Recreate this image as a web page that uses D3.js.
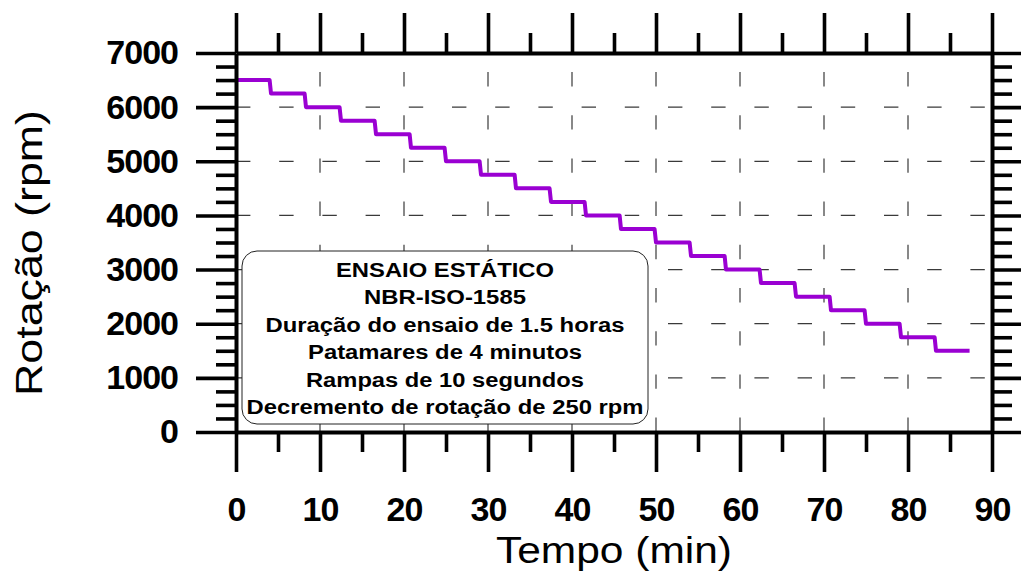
<!DOCTYPE html>
<html>
<head>
<meta charset="utf-8">
<script src="https://cdn.jsdelivr.net/npm/d3@7"></script>
<style>
  html, body { margin: 0; padding: 0; background: #fff; }
  svg { display: block; font-family: "Liberation Sans", Arial, sans-serif; }
</style>
</head>
<body>
<svg id="chart" width="1021" height="571"></svg>
<script>
// Rotation plateaus of the static test (rpm) with start/end time of each plateau (min)
const rotationLevels = [6500, 6250, 6000, 5750, 5500, 5250, 5000, 4750, 4500, 4250, 4000,
                        3750, 3500, 3250, 3000, 2750, 2500, 2250, 2000, 1750, 1500];
const plateauStart = [0, 4.17, 8.33, 12.5, 16.67, 20.83, 25, 29.17, 33.33, 37.5, 41.67,
                      45.83, 50, 54.17, 58.33, 62.5, 66.67, 70.83, 75, 79.17, 83.33];
const plateauEnd   = [4, 8.17, 12.33, 16.5, 20.67, 24.83, 29, 33.17, 37.33, 41.5, 45.67,
                      49.83, 54, 58.17, 62.33, 66.5, 70.67, 74.83, 79, 83.17, 87.33];

// Axis ticks
const timeTicks = [0, 10, 20, 30, 40, 50, 60, 70, 80, 90];
const rotTicks = [0, 1000, 2000, 3000, 4000, 5000, 6000, 7000];
const timeGrid = [10, 20, 30, 40, 50, 60, 70, 80];
const rotGrid = [1000, 2000, 3000, 4000, 5000, 6000];

// Annotation box text
const noteLines = [
  "ENSAIO ESTÁTICO",
  "NBR-ISO-1585",
  "Duração do ensaio de 1.5 horas",
  "Patamares de 4 minutos",
  "Rampas de 10 segundos",
  "Decremento de rotação de 250 rpm"
];
const noteWidths = [218, 162, 359, 274, 278, 397];

const svg = d3.select("#chart");

const x = d3.scaleLinear().domain([0, 90]).range([236, 992]);
const y = d3.scaleLinear().domain([0, 7000]).range([432, 53]);

const timeMinor = d3.range(5, 90, 10);
const rotMinor = d3.range(0, 7001, 250).filter(v => v % 1000 !== 0);

// Dashed reference grid
const grid = svg.append("g").attr("stroke", "#3a3a3a").attr("stroke-width", 1.2)
  .attr("stroke-dasharray", "14.4,28.8").attr("fill", "none");
grid.selectAll("path.v").data(timeGrid).join("path").attr("class", "v")
  .attr("d", d => `M${x(d)},${y(0)}V${y(7000)}`);
grid.selectAll("path.h").data(rotGrid).join("path").attr("class", "h")
  .attr("d", d => `M${x(0)},${y(d)}H${x(90)}`);

// Annotation box
const box = svg.append("g");
box.append("rect")
  .attr("x", 242).attr("y", 251).attr("width", 406).attr("height", 173)
  .attr("rx", 15).attr("ry", 15)
  .attr("fill", "#fff").attr("stroke", "#222").attr("stroke-width", 1);
box.selectAll("text").data(noteLines).join("text")
  .attr("x", 445)
  .attr("y", (d, i) => 277 + i * 27.45)
  .attr("text-anchor", "middle")
  .attr("font-size", 19.5)
  .attr("font-weight", "bold")
  .attr("fill", "#000")
  .attr("textLength", (d, i) => noteWidths[i])
  .attr("lengthAdjust", "spacingAndGlyphs")
  .text(d => d);

// Step curve
const pts = [];
rotationLevels.forEach((r, i) => {
  pts.push([plateauStart[i], r]);
  pts.push([plateauEnd[i], r]);
});
svg.append("path")
  .datum(pts)
  .attr("fill", "none")
  .attr("stroke", "#9a00d2")
  .attr("stroke-width", 4)
  .attr("stroke-linejoin", "round")
  .attr("d", d3.line().x(d => x(d[0])).y(d => y(d[1])));

// Axes: major ticks 40px, minor ticks 20px, all pointing outward
function styleAxis(g) {
  g.selectAll("path.domain").attr("stroke", "#000").attr("stroke-width", 4);
  g.selectAll(".tick line").attr("stroke", "#000").attr("stroke-width", 3.6);
  g.selectAll("text")
    .attr("font-family", "'Liberation Sans', Arial, sans-serif")
    .attr("font-size", 34).attr("font-weight", "bold")
    .attr("letter-spacing", -1).attr("fill", "#000");
}
function minorAxis(g) {
  g.select("path.domain").remove();
  g.selectAll("text").remove();
  g.selectAll(".tick line").attr("stroke", "#000").attr("stroke-width", 3.6);
}

svg.append("g").attr("transform", `translate(0,${y(0)})`)
  .call(d3.axisBottom(x).tickValues(timeMinor).tickSize(20).tickFormat("")).call(minorAxis);
svg.append("g").attr("transform", `translate(0,${y(7000)})`)
  .call(d3.axisTop(x).tickValues(timeMinor).tickSize(20).tickFormat("")).call(minorAxis);
svg.append("g").attr("transform", `translate(${x(0)},0)`)
  .call(d3.axisLeft(y).tickValues(rotMinor).tickSize(20).tickFormat("")).call(minorAxis);
svg.append("g").attr("transform", `translate(${x(90)},0)`)
  .call(d3.axisRight(y).tickValues(rotMinor).tickSize(20).tickFormat("")).call(minorAxis);

svg.append("g").attr("transform", `translate(0,${y(0)})`)
  .call(d3.axisBottom(x).tickValues(timeTicks).tickSize(40).tickSizeOuter(0).tickPadding(25).tickFormat(d3.format("d")))
  .call(styleAxis);
svg.append("g").attr("transform", `translate(0,${y(7000)})`)
  .call(d3.axisTop(x).tickValues(timeTicks).tickSize(40).tickSizeOuter(0).tickFormat(""))
  .call(styleAxis);
svg.append("g").attr("transform", `translate(${x(0)},0)`)
  .call(d3.axisLeft(y).tickValues(rotTicks).tickSize(40).tickSizeOuter(0).tickPadding(18).tickFormat(d3.format("d")))
  .call(styleAxis);
svg.append("g").attr("transform", `translate(${x(90)},0)`)
  .call(d3.axisRight(y).tickValues(rotTicks).tickSize(40).tickSizeOuter(0).tickFormat(""))
  .call(styleAxis);

// Axis titles
svg.append("text")
  .attr("x", 614).attr("y", 563)
  .attr("text-anchor", "middle")
  .attr("font-size", 36)
  .attr("textLength", 236).attr("lengthAdjust", "spacingAndGlyphs")
  .attr("fill", "#000")
  .text("Tempo (min)");
svg.append("text")
  .attr("transform", "translate(42,253) rotate(-90)")
  .attr("text-anchor", "middle")
  .attr("font-size", 36)
  .attr("textLength", 286).attr("lengthAdjust", "spacingAndGlyphs")
  .attr("fill", "#000")
  .text("Rotação (rpm)");
</script>
</body>
</html>
